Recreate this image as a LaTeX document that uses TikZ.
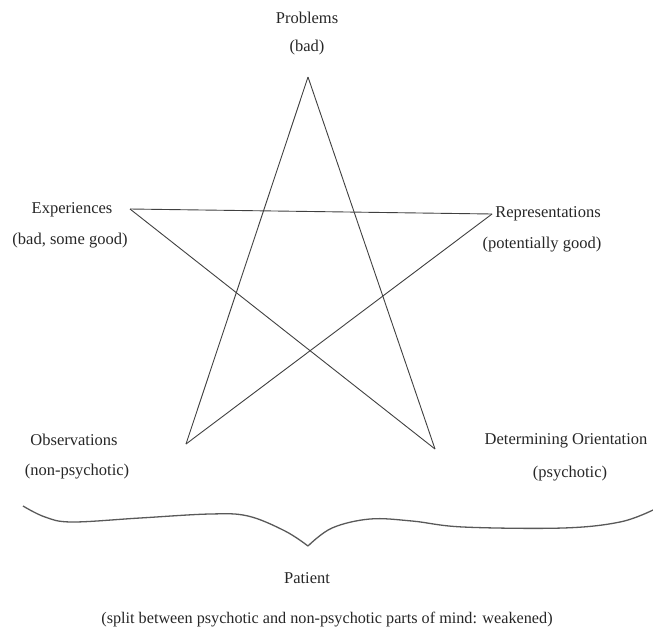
\documentclass[tikz,border=0pt]{standalone}
\usepackage{fontspec}
\setmainfont{Liberation Serif}
\begin{document}
\begin{tikzpicture}[x=1pt,y=-1pt,
  lbl/.style={font=\fontsize{16.5}{20}\selectfont, text=black!85, inner sep=0pt},
  lblwide/.style={font=\fontsize{16.2}{20}\selectfont, text=black!85, inner sep=0pt},
  starline/.style={draw=black!75, line width=0.9pt},
  braceline/.style={draw=black!65, line width=1.3pt, line join=miter}]
\useasboundingbox (0,0) rectangle (653,635);
% vertices
\coordinate (top) at (308,77);
\coordinate (lft) at (130,209);
\coordinate (rgt) at (492,214);
\coordinate (bl) at (186,444);
\coordinate (br) at (435,449);
% star
\draw[starline] (top) -- (bl);
\draw[starline] (top) -- (br);
\draw[starline] (lft) -- (rgt);
\draw[starline] (lft) -- (br);
\draw[starline] (rgt) -- (bl);
% labels
\node[lbl] (p1) at (307,18) {Problems};
\node[lbl] (p2) at (307,48) {(bad)};
\node[lbl] (e1) at (72,210) {Experiences};
\node[lbl] (e2) at (70,241) {(bad, some good)};
\node[lbl] (r1) at (548,214) {Representations};
\node[lbl] (r2) at (542,245) {(potentially good)};
\node[lbl] (o1) at (74,440) {Observations};
\node[lbl] (o2) at (77,472) {(non-psychotic)};
\node[lbl] (d1) at (566,441) {Determining Orientation};
\node[lbl] (d2) at (570,474) {(psychotic)};
\node[lbl] (pt1) at (307,578) {Patient};
\node[lblwide] (pt2) at (327,620) {(split between psychotic and non-psychotic parts of mind: weakened)};
% brace
\coordinate (tip) at (308,546);
\draw[braceline] plot[smooth, tension=0.6] coordinates {(23,506) (45,517) (72,522) (140,518) (210,514) (248,516) (285,531) (308,546)};
\draw[braceline] plot[smooth, tension=0.6] coordinates {(308,546) (332,528) (370,519) (412,521) (463,527) (563,528) (620,522) (653,510)};
\end{tikzpicture}
\end{document}
